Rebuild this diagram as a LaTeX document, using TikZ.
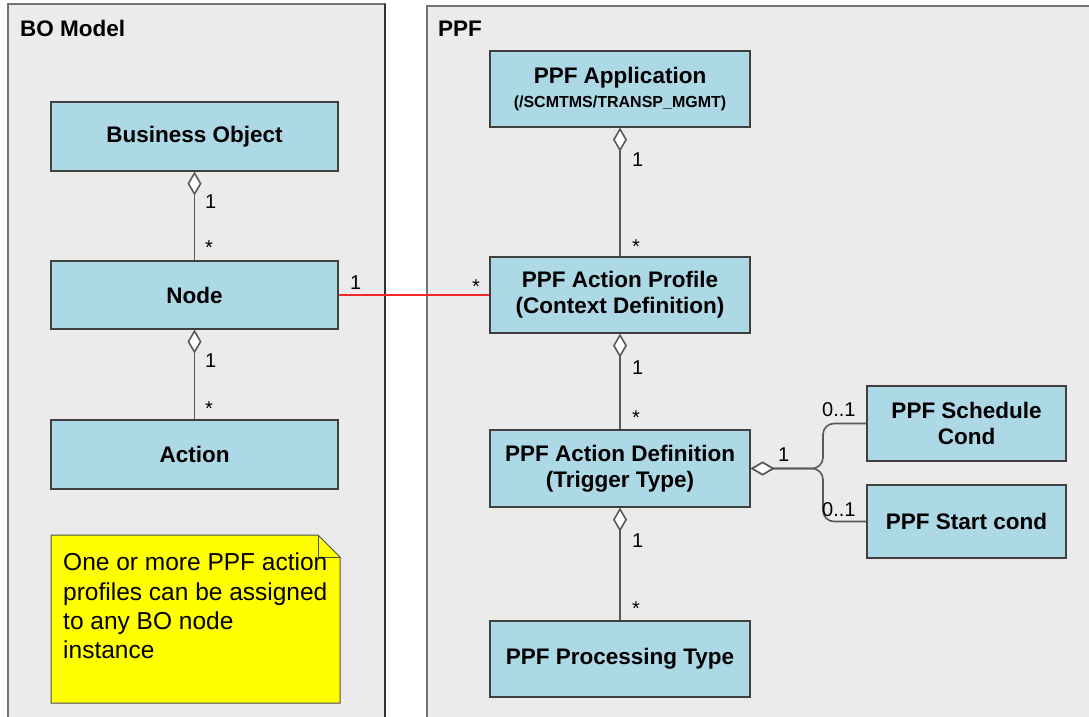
\documentclass[tikz,border=0pt]{standalone}
\usepackage{fontspec}
\setmainfont{Liberation Sans}
\usetikzlibrary{arrows.meta}
\definecolor{boxblue}{RGB}{173,216,230}
\definecolor{framegray}{RGB}{235,235,235}
\definecolor{noteyellow}{RGB}{255,255,0}
\definecolor{linkred}{RGB}{240,40,40}
\def\titlefont{\fontsize{22.5}{26}\selectfont\bfseries}
\def\subfont{\fontsize{16}{18}\selectfont\bfseries}
\def\multfont{\fontsize{20}{24}\selectfont}
\def\notefont{\fontsize{24.5}{29.3}\selectfont}
\tikzset{
	classbox/.style={draw=black!75, line width=1.2pt, fill=boxblue, inner sep=0pt, align=center, font=\titlefont},
	frame/.style={draw=black!55, line width=1.5pt, fill=framegray},
	assoc/.style={draw=black!65, line width=1.6pt, {Diamond[open, fill=white, length=24pt, width=14pt]}-},
	mult/.style={font=\multfont, inner sep=0pt, anchor=west},
}

\begin{document}
\begin{tikzpicture}[x=1pt, y=-1pt]
		%%%%% START %%%%%
		\useasboundingbox (0, 0) rectangle (1089, 717);
		
		\draw[frame] (8, 4) rectangle (385, 730);
		\draw[black!80, line width=1.5pt] (385, 4) -- (385, 730);
		\draw[frame] (427, 6) rectangle (1100, 730);
		\node[font=\titlefont, anchor=base west, inner sep=0pt] (bomodel) at (20, 36.5) {BO Model};
		\node[font=\titlefont, anchor=base west, inner sep=0pt] (ppf) at (438, 36.5) {PPF};
		
		% BO model side
		\node[classbox, minimum width=287pt, minimum height=69pt] (bo) at (194.5, 136.5) {Business Object};
		\node[classbox, minimum width=287pt, minimum height=68pt] (bonode) at (194.5, 295) {Node};
		\node[classbox, minimum width=287pt, minimum height=69pt] (action) at (194.5, 454.5) {Action};
		
		\draw[assoc] (bo.south) -- (bonode.north);
		\node[mult] (m1) at (205, 202) {1};
		\node[mult] (m2) at (205, 248) {*};
		\draw[assoc] (bonode.south) -- (action.north);
		\node[mult] (m3) at (205, 361) {1};
		\node[mult] (m4) at (205, 409) {*};
		
		% note
		\draw[draw=black!70, line width=1pt, fill=noteyellow] (51, 535) -- (318, 535) -- (340, 557) -- (340, 703) -- (51, 703) -- cycle;
		\draw[draw=black!70, line width=1pt] (318, 535) -- (318, 557) -- (340, 557);
		\node[font=\notefont, align=left, anchor=north west, inner sep=0pt] (note) at (63, 553) {One or more PPF action\\profiles can be assigned\\to any BO node\\instance};
		
		% PPF side
		\node[classbox, minimum width=260pt, minimum height=76pt] (app) at (620, 89) {PPF Application\\[-2pt]{\subfont (/SCMTMS/TRANSP\_MGMT)}};
		\node[classbox, minimum width=260pt, minimum height=76pt] (profile) at (620, 295) {PPF Action Profile\\(Context Definition)};
		\node[classbox, minimum width=260pt, minimum height=77pt] (def) at (620, 468.5) {PPF Action Definition\\(Trigger Type)};
		\node[classbox, minimum width=260pt, minimum height=76pt] (proc) at (620, 659) {PPF Processing Type};
		\node[classbox, minimum width=199pt, minimum height=75pt] (sched) at (966.5, 423.5) {PPF Schedule\\Cond};
		\node[classbox, minimum width=199pt, minimum height=73pt] (start) at (966.5, 521.5) {PPF Start cond};
		
		\draw[assoc] (app.south) -- (profile.north);
		\node[mult] (m5) at (632, 160) {1};
		\node[mult] (m6) at (632, 247) {*};
		\draw[assoc] (profile.south) -- (def.north);
		\node[mult] (m7) at (632, 368) {1};
		\node[mult] (m8) at (632, 418) {*};
		\draw[assoc] (def.south) -- (proc.north);
		\node[mult] (m9) at (632, 541) {1};
		\node[mult] (m10) at (632, 609) {*};
		
		\draw[assoc, rounded corners=11pt] (def.east) -- (823, 468.5) |- (sched.west);
		\draw[assoc, rounded corners=11pt] (def.east) -- (823, 468.5) |- (start.west);
		\node[mult] (m11) at (778, 455) {1};
		\node[mult] (m12) at (822, 410) {0..1};
		\node[mult] (m13) at (822, 510) {0..1};
		
		% BO node to action profile
		\draw[linkred, line width=1.3pt] (bonode.east) -- (profile.west);
		\node[mult] (m14) at (350, 283) {1};
		\node[mult] (m15) at (472, 287) {*};
		
		%%%%% END %%%%%
	\end{tikzpicture}
\end{document}
